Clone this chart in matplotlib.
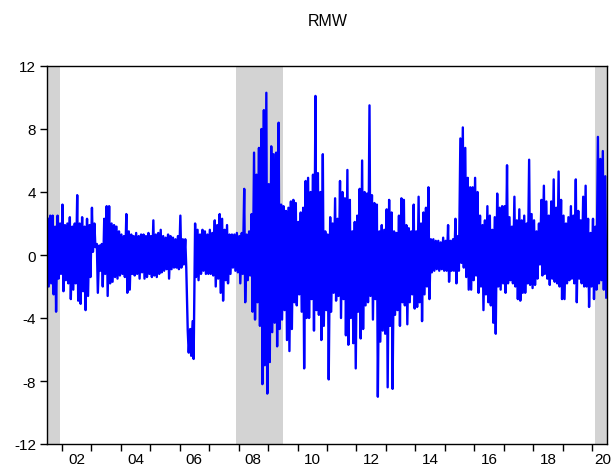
import numpy as np
import pandas as pd
import matplotlib
matplotlib.use('Agg')
import matplotlib.pyplot as plt

plt.rcParams['font.family'] = ['Liberation Sans', 'DejaVu Sans']

## monthly high / low of the daily RMW series, Jul 2001 - Jun 2020
rmw_hi = [
    2.3, 2.5, 2.5, 1.8, 2.5, 2.0,                                # 2001 (Jul-Dec)
    3.2, 1.9, 2.0, 2.4, 1.8, 2.0, 3.8, 2.0, 2.4, 1.8, 2.3, 1.9,  # 2002
    3.0, 2.0, 0.7, 0.6, 0.7, 2.3, 3.1, 3.1, 2.0, 1.9, 1.8, 1.5,  # 2003
    1.3, 1.2, 2.6, 1.5, 1.3, 1.2, 1.4, 1.2, 1.3, 1.3, 1.2, 1.4,  # 2004
    1.2, 2.2, 1.3, 1.4, 1.6, 1.2, 1.1, 1.3, 1.2, 1.1, 1.0, 1.2,  # 2005
    2.5, 1.0, 1.0, -4.8, -4.7, -4.2, 2.0, 1.6, 1.3, 1.6, 1.5, 1.3,  # 2006
    1.6, 1.4, 2.2, 1.9, 2.6, 2.3, 1.6, 1.9, 1.3, 1.3, 1.3, 1.4,  # 2007
    1.2, 1.4, 4.2, 1.3, 1.5, 2.6, 6.5, 5.1, 6.8, 8.0, 9.2, 10.3,  # 2008
    4.5, 6.9, 6.4, 6.5, 8.4, 3.2, 3.1, 2.8, 3.0, 3.4, 3.5, 3.3,  # 2009
    2.1, 2.7, 3.0, 4.7, 4.9, 4.0, 5.1, 10.1, 5.2, 4.0, 6.4, 1.5,  # 2010
    1.3, 2.4, 2.0, 3.6, 2.3, 4.7, 4.0, 3.6, 5.4, 3.5, 1.5, 2.1,  # 2011
    2.5, 4.2, 6.0, 4.0, 3.9, 9.5, 3.8, 3.3, 3.2, 1.5, 1.9, 1.6,  # 2012
    2.9, 3.5, 2.7, 1.5, 1.4, 2.5, 3.6, 3.5, 1.9, 1.7, 1.5, 3.2,  # 2013
    1.5, 3.7, 2.0, 2.7, 3.0, 4.3, 1.0, 1.0, 0.9, 0.9, 0.8, 1.1,  # 2014
    0.9, 1.9, 0.9, 1.0, 2.3, 1.2, 7.4, 8.1, 6.8, 4.9, 4.3, 4.3,  # 2015
    4.9, 4.0, 2.5, 1.9, 2.2, 3.1, 2.5, 1.6, 2.4, 3.9, 3.0, 3.1,  # 2016
    3.1, 5.7, 2.4, 1.8, 3.7, 2.2, 2.9, 2.2, 2.5, 2.0, 6.05, 2.6,  # 2017
    2.2, 1.5, 2.0, 3.5, 4.4, 3.4, 2.5, 3.4, 4.8, 3.0, 5.3, 3.5,  # 2018
    2.5, 2.0, 2.4, 3.1, 2.5, 4.8, 2.8, 2.2, 3.7, 4.4, 2.3, 1.4,  # 2019
    2.3, 1.8, 7.5, 6.1, 6.6, 5.0,                                # 2020 (Jan-Jun)
]
rmw_lo = [
    -2.0, -1.8, -2.5, -3.6, -1.5, -1.2,
    -2.3, -1.6, -1.8, -2.8, -2.2, -1.8, -2.9, -3.1, -2.3, -3.5, -2.6, -1.4,
    0.2, 0.5, -2.4, -1.0, -2.0, -1.2, -2.6, -1.8, -1.7, -1.4, -1.5, -1.3,
    -1.2, -1.4, -2.4, -2.2, -1.2, -1.3, -1.2, -1.5, -1.1, -1.5, -1.4, -1.2,
    -1.4, -1.3, -1.4, -1.2, -1.1, -1.0, -0.9, -1.5, -0.9, -0.8, -0.8, -0.9,
    -0.8, -0.6, -0.8, -6.2, -6.4, -6.6, -1.4, -1.6, -1.2, -1.0, -1.2, -1.2,
    -1.2, -1.3, -2.0, -1.5, -2.4, -2.9, -1.6, -1.8, -1.2, -0.8, -1.0, -1.1,
    -1.8, -1.2, -3.0, -1.6, -1.3, -3.6, -4.1, -3.0, -4.5, -8.2, -7.0, -8.8,
    -6.8, -4.9, -4.3, -5.8, -4.7, -4.1, -3.5, -5.4, -6.1, -4.7, -3.0, -3.2,
    -2.5, -3.6, -7.2, -4.0, -4.0, -2.8, -4.8, -3.5, -3.8, -5.4, -4.5, -3.5,
    -7.9, -3.6, -2.4, -2.9, -2.6, -4.0, -2.8, -5.1, -5.7, -4.0, -5.6, -7.2,
    -3.6, -5.3, -4.7, -3.2, -3.0, -2.6, -4.1, -2.8, -9.0, -5.5, -4.8, -5.0,
    -8.4, -4.5, -8.5, -3.8, -3.5, -4.5, -3.0, -3.2, -4.4, -3.0, -2.5, -3.4,
    -3.3, -3.0, -4.2, -2.5, -2.0, -2.8, -1.1, -1.0, -0.9, -1.0, -0.9, -1.0,
    -1.0, -1.7, -1.0, -1.0, -1.8, -1.0, -0.5, -0.8, -1.4, -2.2, -2.2, -1.6,
    -1.3, -2.4, -2.0, -3.5, -2.5, -3.0, -3.2, -4.3, -5.0, -2.0, -2.2, -1.8,
    -2.4, -1.8, -1.6, -1.8, -2.0, -2.8, -2.9, -2.4, -2.4, -1.8, -1.9, -2.1,
    -1.9, -1.5, -0.6, -1.3, -1.2, -1.5, -1.9, -1.5, -1.7, -1.8, -2.0, -2.8,
    -2.8, -1.8, -1.6, -1.5, -1.8, -3.0, -1.5, -1.8, -2.0, -2.0, -3.3, -2.0,
    -2.8, -2.2, -1.8, -1.6, -2.2, -2.7,
]

# NBER recessions (shaded)
rec_start = [2001.5, 2007.92, 2020.1]
rec_end = [2001.95, 2009.5, 2020.5]

year_ticks = list(range(2002, 2021))
year_labels = ['02', '04', '06', '08', '10', '12', '14', '16', '18', '20']
label_pos = [2002.5, 2004.5, 2006.5, 2008.5, 2010.5, 2012.5, 2014.5, 2016.5, 2018.5, 2020.35]

months = pd.period_range('2001-07', '2020-06', freq='M')
t = np.asarray(months.year + (months.month - 1) / 12.0, dtype=float)
x = np.column_stack([t + 0.3 / 12, t + 0.7 / 12]).ravel()
y = np.column_stack([rmw_hi, rmw_lo]).ravel()

fig = plt.figure(figsize=(6.14, 4.77), dpi=100)
ax = fig.add_axes([47 / 614, 1 - 445 / 477, 560 / 614, 378 / 477])

for s, e in zip(rec_start, rec_end):
    ax.axvspan(s, e, color='#d3d3d3', lw=0, zorder=0)

ax.plot(x, y, color='#0000ff', lw=1.7, solid_joinstyle='round', zorder=2)

ax.set_xlim(2001.5, 2020.5)
ax.set_ylim(-12, 12)
ax.set_yticks([-12, -8, -4, 0, 4, 8, 12])
ax.set_yticklabels(['-12', '-8', '-4', '0', '4', '8', '12'])

ax.set_xticks(year_ticks)
ax.set_xticklabels([])
ax.set_xticks(label_pos, minor=True)
ax.set_xticklabels(year_labels, minor=True)
ax.tick_params(axis='x', which='major', direction='out', length=5, width=1, color='black')
ax.tick_params(axis='x', which='minor', length=0, pad=6, labelsize=11)
ax.tick_params(axis='y', direction='out', length=5, width=1, pad=3, labelsize=11)

for sp in ax.spines.values():
    sp.set_linewidth(1.0)
    sp.set_color('black')

fig.text(0.533, 1 - 22 / 477, 'RMW', ha='center', va='center', fontsize=11.5)

fig.savefig('out.png', dpi=100)
